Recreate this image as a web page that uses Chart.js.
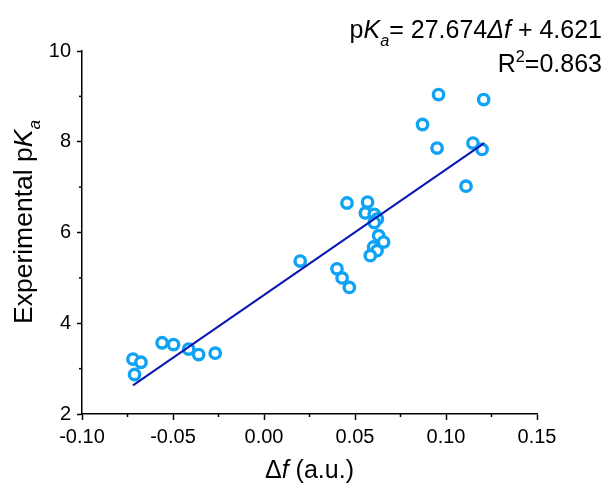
<!DOCTYPE html>
<html>
<head>
<meta charset="utf-8">
<script src="https://cdn.jsdelivr.net/npm/chart.js@4/dist/chart.umd.min.js"></script>
<style>
  html, body { margin: 0; padding: 0; background: #fff; }
  #wrap { width: 607px; height: 490px; }
</style>
</head>
<body>
<div id="wrap"><canvas id="pkaChart" width="607" height="490"></canvas></div>
<script>
const xValues = [-0.0720, -0.0676, -0.0711, -0.0560, -0.0497, -0.0414, -0.0359, -0.0268,
    0.0199, 0.0401, 0.0429, 0.0469, 0.0456, 0.0569, 0.0557, 0.0606, 0.0623, 0.0606,
    0.0630, 0.0657, 0.0602, 0.0621, 0.0584, 0.0959, 0.1207, 0.0871, 0.0951, 0.1148,
    0.1198, 0.1110];
const yValues = [3.21, 3.14, 2.87, 3.57, 3.53, 3.43, 3.31, 3.34,
    5.37, 5.20, 5.00, 4.79, 6.65, 6.67, 6.43, 6.40, 6.30, 6.22,
    5.93, 5.79, 5.68, 5.60, 5.49, 9.04, 8.93, 8.38, 7.86, 7.97,
    7.83, 7.02];

// ends of the fitted line
const fitX = [-0.072, 0.121];
const fitY = [2.63, 7.97];

const xTickLabels = ['-0.10', '-0.05', '0.00', '0.05', '0.10', '0.15'];
const yTickLabels = ['2', '4', '6', '8', '10'];

const FONT = '"Liberation Sans", Arial, sans-serif';

// draw a run of text pieces, some italic / sub / sup
function drawRich(ctx, parts, x, y, size, align) {
    const pieces = parts.map(p => {
        const s = (p.sub || p.sup) ? size * 0.65 : size;
        const f = (p.italic ? 'italic ' : '') + s + 'px ' + FONT;
        ctx.font = f;
        return { t: p.t, f: f, w: ctx.measureText(p.t).width, dy: p.sub ? size * 0.3 : (p.sup ? -size * 0.4 : 0) };
    });
    const total = pieces.reduce((a, p) => a + p.w, 0);
    let cx = align === 'right' ? x - total : (align === 'center' ? x - total / 2 : x);
    ctx.textAlign = 'left';
    ctx.textBaseline = 'alphabetic';
    pieces.forEach(p => {
        ctx.font = p.f;
        ctx.fillText(p.t, cx, y + p.dy);
        cx += p.w;
    });
}

const decoPlugin = {
    id: 'deco',
    afterDraw(chart) {
        const ctx = chart.ctx;
        const xs = chart.scales.x;
        const ys = chart.scales.y;
        const area = chart.chartArea;
        ctx.save();
        ctx.strokeStyle = '#000';
        ctx.lineWidth = 1.5;
        // minor ticks halfway between the major ones
        for (let i = 0; i < xs.ticks.length - 1; i++) {
            const px = xs.getPixelForValue((xs.ticks[i].value + xs.ticks[i + 1].value) / 2);
            ctx.beginPath();
            ctx.moveTo(px, area.bottom);
            ctx.lineTo(px, area.bottom + 3);
            ctx.stroke();
        }
        for (let i = 0; i < ys.ticks.length - 1; i++) {
            const py = ys.getPixelForValue((ys.ticks[i].value + ys.ticks[i + 1].value) / 2);
            ctx.beginPath();
            ctx.moveTo(area.left, py);
            ctx.lineTo(area.left - 3, py);
            ctx.stroke();
        }

        ctx.fillStyle = '#000';
        // axis titles
        drawRich(ctx, [{ t: '\u0394' }, { t: 'f', italic: true }, { t: ' (a.u.)' }],
            (area.left + area.right) / 2, 478, 25, 'center');

        ctx.save();
        ctx.translate(32, 222);
        ctx.rotate(-Math.PI / 2);
        drawRich(ctx, [{ t: 'Experimental p' }, { t: 'K', italic: true }, { t: 'a', italic: true, sub: true }],
            0, 0, 26.5, 'center');
        ctx.restore();

        // fit equation
        drawRich(ctx, [{ t: 'p' }, { t: 'K', italic: true }, { t: 'a', italic: true, sub: true },
            { t: '= 27.674' }, { t: '\u0394f', italic: true }, { t: ' + 4.621' }], 602, 38, 25, 'right');
        drawRich(ctx, [{ t: 'R' }, { t: '2', sup: true }, { t: '=0.863' }], 602, 72, 25, 'right');
        ctx.restore();
    }
};

const scatterPoints = xValues.map((x, i) => ({ x: x, y: yValues[i] }));
const fitPoints = fitX.map((x, i) => ({ x: x, y: fitY[i] }));

const ctx = document.getElementById('pkaChart').getContext('2d');
new Chart(ctx, {
    type: 'scatter',
    data: {
        datasets: [
            {
                label: 'fit',
                data: fitPoints,
                showLine: true,
                borderColor: '#0A16B4',
                borderWidth: 2,
                pointRadius: 0
            },
            {
                label: 'pKa',
                data: scatterPoints,
                pointStyle: 'circle',
                pointRadius: 5.2,
                borderWidth: 3.4,
                borderColor: '#10A2F5',
                backgroundColor: '#ffffff'
            }
        ]
    },
    options: {
        responsive: false,
        animation: false,
        devicePixelRatio: 1,
        layout: { padding: { left: 0, right: 70, top: 51, bottom: 0 } },
        plugins: {
            legend: { display: false },
            tooltip: { enabled: false }
        },
        scales: {
            x: {
                type: 'linear',
                min: -0.10,
                max: 0.15,
                afterFit: s => { s.height = 76; },
                afterBuildTicks: s => {
                    s.ticks = xTickLabels.map(l => ({ value: parseFloat(l) }));
                },
                ticks: {
                    callback: (v, i) => xTickLabels[i],
                    color: '#000',
                    font: { family: FONT, size: 20 },
                    padding: 5,
                    maxRotation: 0
                },
                grid: { drawOnChartArea: false, drawTicks: true, tickLength: 6, tickColor: '#000', tickWidth: 1.5 },
                border: { color: '#000', width: 1.5 }
            },
            y: {
                type: 'linear',
                min: 2,
                max: 10,
                afterFit: s => { s.width = 82; },
                afterBuildTicks: s => {
                    s.ticks = yTickLabels.map(l => ({ value: parseFloat(l) }));
                },
                ticks: {
                    callback: (v, i) => yTickLabels[i],
                    color: '#000',
                    font: { family: FONT, size: 20 },
                    padding: 6
                },
                grid: { drawOnChartArea: false, drawTicks: true, tickLength: 5, tickColor: '#000', tickWidth: 1.5 },
                border: { color: '#000', width: 1.5 }
            }
        }
    },
    plugins: [decoPlugin]
});
</script>
</body>
</html>
